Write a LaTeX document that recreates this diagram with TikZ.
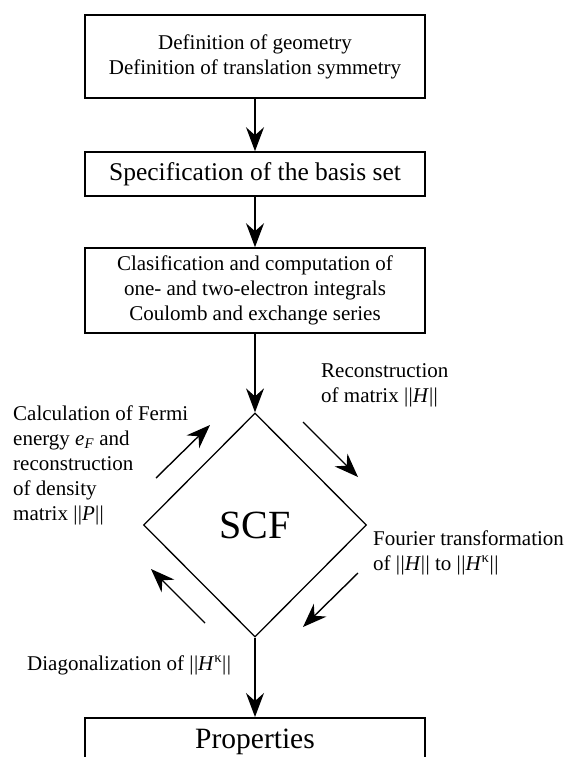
\documentclass[tikz,border=0pt]{standalone}
\usepackage{fontspec}
\setmainfont{Liberation Serif}
\usetikzlibrary{shapes.geometric,arrows.meta}
\newcommand{\nrm}[1]{|\kern0.5pt|#1|\kern0.5pt|}
\begin{document}
\begin{tikzpicture}[x=1pt,y=-1pt,
  box/.style={draw,line width=1.6pt,minimum width=340pt,inner sep=0pt,align=center,font=\fontsize{21}{25}\selectfont},
  flow/.style={line width=1.4pt,-{Stealth[length=24pt,width=18pt,inset=8pt]}},
  lbl/.style={anchor=base west,inner sep=0pt,font=\fontsize{21}{25}\selectfont},
]
\useasboundingbox (0,0) rectangle (564,757);
\fill[white] (0,0) rectangle (564,757);
\clip (0,0) rectangle (564,757);

\node[box,minimum height=83pt] (geom) at (255,56.5) {Definition of geometry\\Definition of translation symmetry};
\node[box,minimum height=44pt,font=\fontsize{25.5}{30}\selectfont] (basis) at (255,174) {Specification of the basis set};
\node[box,minimum height=85pt] (integ) at (255,290.5) {Clasification and computation of\\one- and two-electron integrals\\Coulomb and exchange series};
\node[draw,diamond,line width=1.3pt,minimum width=223pt,minimum height=224pt,inner sep=0pt,font=\fontsize{40}{48}\selectfont] (scf) at (255,525) {SCF};
\node[box,minimum height=80pt,anchor=north] (props) at (255,717) {};
\node[anchor=base,inner sep=0pt,font=\fontsize{29.5}{35}\selectfont] (propstext) at (255,748) {Properties};

\draw[flow] (geom.south) -- (basis.north);
\draw[flow] (basis.south) -- (integ.north);
\draw[flow] (integ.south) -- (scf.north);
\draw[flow] (scf.south) -- (props.north);

\coordinate (a1s) at (156,478); \coordinate (a1e) at (210,425);
\coordinate (a2s) at (303,422); \coordinate (a2e) at (358,477);
\coordinate (a3s) at (358,573); \coordinate (a3e) at (303,627);
\coordinate (a4s) at (205,623); \coordinate (a4e) at (151,569);
\draw[flow] (a1s) -- (a1e);
\draw[flow] (a2s) -- (a2e);
\draw[flow] (a3s) -- (a3e);
\draw[flow] (a4s) -- (a4e);

\node[lbl] (fermi) at (13,420) {\begin{tabular}[t]{@{}l@{}}Calculation of Fermi\\energy \textit{e}\textsubscript{\textit{F}} and\\reconstruction\\of density\\matrix \nrm{\textit{P}}\end{tabular}};
\node[lbl] (recon) at (321,377) {\begin{tabular}[t]{@{}l@{}}Reconstruction\\of matrix \nrm{\textit{H}}\end{tabular}};
\node[lbl] (fourier) at (373,545) {\begin{tabular}[t]{@{}l@{}}Fourier transformation\\of \nrm{\textit{H}} to \nrm{\textit{H}\textsuperscript{κ}}\end{tabular}};
\node[lbl] (diag) at (27,670) {Diagonalization of \nrm{\textit{H}\textsuperscript{κ}}};
\end{tikzpicture}
\end{document}
